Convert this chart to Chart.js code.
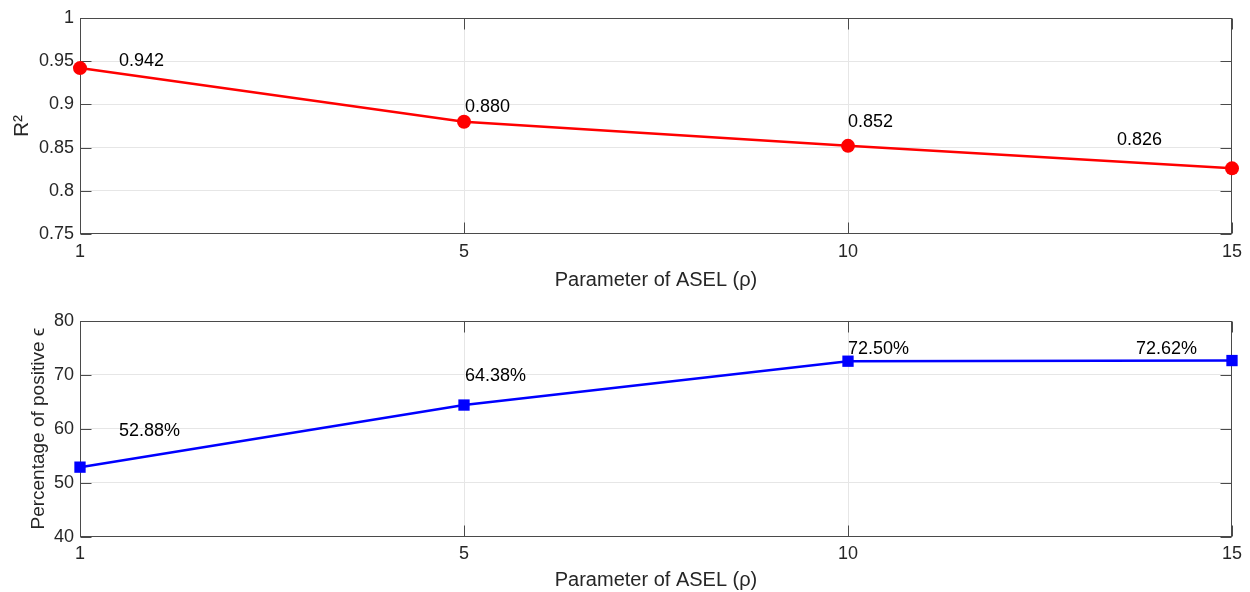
<!DOCTYPE html>
<html>
<head>
<meta charset="utf-8">
<script src="https://cdn.jsdelivr.net/npm/chart.js@4"></script>
<style>
  html, body { margin: 0; padding: 0; background: #fff; }
  #wrap { position: relative; width: 1250px; height: 592px; }
  canvas { position: absolute; left: 0; }
  #c1 { top: 0; }
  #c2 { top: 296px; }
</style>
</head>
<body>
<div id="wrap">
  <canvas id="c1" width="1250" height="296"></canvas>
  <canvas id="c2" width="1250" height="296"></canvas>
</div>
<script>
// ---- data ----
const xCategories = ['1', '5', '10', '15'];
const r2Values = [0.942, 0.880, 0.852, 0.826];
const positivePct = [52.88, 64.38, 72.50, 72.62];
const r2Labels = ['0.942', '0.880', '0.852', '0.826'];
const pctLabels = ['52.88%', '64.38%', '72.50%', '72.62%'];
const r2TickValues = [0.75, 0.8, 0.85, 0.9, 0.95, 1];
const pctTickValues = [40, 50, 60, 70, 80];
const xTitle = 'Parameter of ASEL (\u03C1)';
const r2Title = 'R\u00B2';
const pctTitle = 'Percentage of positive \u03F5';

// ---- style ----
const FONT = '"Liberation Sans", Arial, Helvetica, sans-serif';
const TXT = '#262626';
const GRID = '#e6e6e6';
const AXIS = '#4a4a4a';

Chart.defaults.font.family = FONT;
Chart.defaults.color = TXT;

const framePlugin = {
  id: 'frame',
  beforeDatasetsDraw(chart, args, opts) {
    const { ctx, chartArea: a, scales: { x, y } } = chart;
    const len = 11;
    ctx.save();
    ctx.lineWidth = 1;
    ctx.strokeStyle = AXIS;
    const L = Math.round(a.left) + 0.5, R = Math.round(a.right) - 0.5;
    const T = Math.round(a.top) + 0.5, B = Math.round(a.bottom) - 0.5;
    ctx.beginPath();
    x.ticks.forEach((t, i) => {
      const px = Math.round(x.getPixelForTick(i)) + 0.5;
      ctx.moveTo(px, B); ctx.lineTo(px, B - len);
      ctx.moveTo(px, T); ctx.lineTo(px, T + len);
    });
    (opts.yTicks || []).forEach(v => {
      const py = Math.round(y.getPixelForValue(v)) + 0.5;
      ctx.moveTo(L, py); ctx.lineTo(L + len, py);
      ctx.moveTo(R, py); ctx.lineTo(R - len, py);
    });
    ctx.stroke();
    ctx.strokeRect(L, T, R - L, B - T);
    ctx.restore();
  },
  afterDatasetsDraw(chart, args, opts) {
    const { ctx } = chart;
    const meta = chart.getDatasetMeta(0);
    const labels = opts.labels || [];
    const offs = opts.offsets || [];
    ctx.save();
    ctx.font = '18px ' + FONT;
    ctx.fillStyle = '#000';
    ctx.textAlign = 'left';
    ctx.textBaseline = 'middle';
    meta.data.forEach((pt, i) => {
      const o = offs[i] || [0, 0];
      ctx.fillText(labels[i], pt.x + o[0], pt.y + o[1]);
    });
    ctx.restore();
  }
};

function makeChart(id, values, color, pointStyle, radius, yTicks, yTitle, yTitleSize, yTitlePad, labels, offsets, topPad, xHeight, xTitlePadBottom) {
  const last = xCategories.length - 1;
  return new Chart(document.getElementById(id), {
    type: 'line',
    data: {
      labels: xCategories,
      datasets: [{
        data: values,
        borderColor: color,
        backgroundColor: color,
        borderWidth: 2.5,
        pointStyle: pointStyle,
        pointRadius: radius,
        pointHoverRadius: radius,
        pointBackgroundColor: color,
        pointBorderColor: color,
        pointBorderWidth: 0,
        tension: 0,
        fill: false,
        clip: false
      }]
    },
    options: {
      responsive: false,
      animation: false,
      devicePixelRatio: 1,
      layout: { padding: { top: topPad, right: 18, left: 0, bottom: 0 } },
      plugins: {
        legend: { display: false },
        tooltip: { enabled: false },
        frame: { yTicks: yTicks, labels: labels, offsets: offsets }
      },
      scales: {
        x: {
          type: 'category',
          offset: false,
          afterFit: s => { s.height = xHeight; },
          ticks: { font: { size: 18 }, color: TXT, padding: 7, maxRotation: 0, autoSkip: false },
          grid: {
            drawTicks: false,
            offset: false,
            color: ctx => (ctx.index === 0 || ctx.index === last) ? 'rgba(0,0,0,0)' : GRID,
            lineWidth: 1
          },
          border: { display: false },
          title: { display: true, text: xTitle, font: { size: 20 }, color: TXT, padding: { top: 0, bottom: xTitlePadBottom } }
        },
        y: {
          type: 'linear',
          min: yTicks[0],
          max: yTicks[yTicks.length - 1],
          afterBuildTicks: s => { s.ticks = yTicks.map(v => ({ value: v })); },
          afterFit: s => { s.width = 80; },
          ticks: { font: { size: 18 }, color: TXT, padding: 6, autoSkip: false,
                   callback: v => String(+v.toFixed(2)) },
          grid: {
            drawTicks: false,
            color: ctx => (ctx.tick && (ctx.tick.value === yTicks[0] || ctx.tick.value === yTicks[yTicks.length - 1])) ? 'rgba(0,0,0,0)' : GRID,
            lineWidth: 1
          },
          border: { display: false },
          title: { display: true, text: yTitle, font: { size: yTitleSize }, color: TXT, padding: { top: yTitlePad, bottom: 0 } }
        }
      }
    },
    plugins: [framePlugin]
  });
}

makeChart('c1', r2Values, '#ff0000', 'circle', 7, r2TickValues, r2Title, 21, 10,
  r2Labels, [[39, -7], [1, -15], [0, -24], [-115, -28]], 18, 62, 4);

makeChart('c2', positivePct, '#0000ff', 'rect', 8, pctTickValues, pctTitle, 19, 27,
  pctLabels, [[39, -36], [1, -29], [0, -12], [-96, -12]], 24.7, 55.3, 0);
</script>
</body>
</html>
